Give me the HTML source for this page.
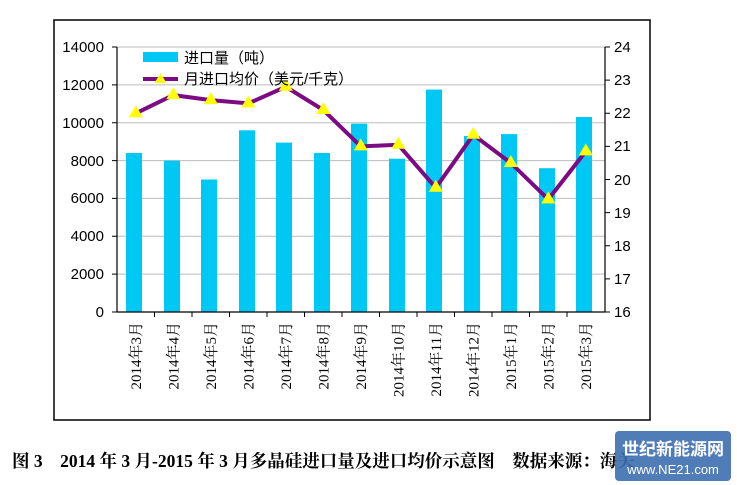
<!DOCTYPE html>
<html><head><meta charset="utf-8"><style>
body{margin:0;background:#fff;width:737px;height:485px;overflow:hidden;position:relative}
svg{position:absolute;left:0;top:0}
</style></head><body>
<svg width="737" height="485" font-family="Liberation Sans, Noto Sans CJK SC, sans-serif">
<rect x="54" y="20" width="596" height="400" fill="#fff" stroke="#000" stroke-width="1.5"/>
<g stroke="#bbb" stroke-width="1">
<line x1="117" x2="605" y1="47" y2="47"/>
<line x1="117" x2="605" y1="274.1" y2="274.1"/><line x1="117" x2="605" y1="236.3" y2="236.3"/>
<line x1="117" x2="605" y1="198.4" y2="198.4"/><line x1="117" x2="605" y1="160.6" y2="160.6"/>
<line x1="117" x2="605" y1="122.7" y2="122.7"/><line x1="117" x2="605" y1="84.9" y2="84.9"/>
</g>
<g fill="#00c8f5">
<rect x="126" y="153" width="16" height="159"/><rect x="164" y="160.6" width="16" height="151.4"/>
<rect x="201" y="179.5" width="16" height="132.5"/><rect x="239" y="130.3" width="16" height="181.7"/>
<rect x="276" y="142.6" width="16" height="169.4"/><rect x="314" y="153" width="16" height="159"/>
<rect x="351" y="123.7" width="16" height="188.3"/><rect x="389" y="158.7" width="16" height="153.3"/>
<rect x="426" y="89.6" width="16" height="222.4"/><rect x="464" y="136" width="16" height="176"/>
<rect x="501" y="134.1" width="16" height="177.9"/><rect x="539" y="168.2" width="16" height="143.8"/>
<rect x="576" y="117" width="16" height="195"/>
</g>
<g stroke="#000" stroke-width="1.2" fill="none">
<line x1="117" y1="47" x2="117" y2="312"/><line x1="605" y1="47" x2="605" y2="312"/>
<line x1="117" y1="312" x2="605" y2="312"/>
</g>
<g stroke="#000" stroke-width="1">
<path d="M112 47h5M112 84.9h5M112 122.7h5M112 160.6h5M112 198.4h5M112 236.3h5M112 274.1h5M112 312h5"/>
<path d="M605 47h5M605 80.1h5M605 113.3h5M605 146.4h5M605 179.5h5M605 212.6h5M605 245.8h5M605 278.9h5M605 312h5"/>
<path d="M154.5 312v5M192 312v5M229.5 312v5M267 312v5M304.5 312v5M342 312v5M379.5 312v5M417 312v5M454.5 312v5M492 312v5M529.5 312v5M567 312v5"/>
</g>
<g font-size="15" text-anchor="end">
<text x="104" y="52">14000</text><text x="104" y="90">12000</text><text x="104" y="128">10000</text>
<text x="104" y="166">8000</text><text x="104" y="203">6000</text><text x="104" y="241">4000</text>
<text x="104" y="279">2000</text><text x="104" y="317">0</text>
</g>
<g font-size="15">
<text x="614" y="52">24</text><text x="614" y="85">23</text><text x="614" y="118">22</text><text x="614" y="151">21</text>
<text x="614" y="185">20</text><text x="614" y="218">19</text><text x="614" y="251">18</text><text x="614" y="284">17</text><text x="614" y="317">16</text>
</g>
<polyline fill="none" stroke="#7b0a84" stroke-width="4" points="135.8,113.3 173.3,95.1 210.8,100.1 248.3,103.4 285.8,86.8 323.3,110 360.8,146.4 398.3,144.8 435.8,187.8 473.3,134.8 510.8,163 548.3,199.4 585.8,151.4"/>
<g fill="#ffff00">
<path d="M135.8 105.3l7 12h-14z"/><path d="M173.3 87.1l7 12h-14z"/><path d="M210.8 92.1l7 12h-14z"/>
<path d="M248.3 95.4l7 12h-14z"/><path d="M285.8 78.8l7 12h-14z"/><path d="M323.3 102l7 12h-14z"/>
<path d="M360.8 138.4l7 12h-14z"/><path d="M398.3 136.8l7 12h-14z"/><path d="M435.8 179.8l7 12h-14z"/>
<path d="M473.3 126.8l7 12h-14z"/><path d="M510.8 155l7 12h-14z"/><path d="M548.3 191.4l7 12h-14z"/>
<path d="M585.8 143.4l7 12h-14z"/>
</g>
<rect x="143" y="52" width="35" height="10" fill="#00c8f5"/>
<text x="184" y="63" font-size="15">进口量（吨）</text>
<line x1="143" y1="79" x2="178" y2="79" stroke="#7b0a84" stroke-width="4"/>
<path d="M160.5 73l6 10h-12z" fill="#ffff00"/>
<text x="184" y="84" font-size="15">月进口均价（美元/千克）</text>
<g font-size="15" font-family="Liberation Serif, Noto Serif CJK SC, serif">
<text transform="translate(141,322) rotate(-90)" text-anchor="end">2014年3月</text>
<text transform="translate(178.5,322) rotate(-90)" text-anchor="end">2014年4月</text>
<text transform="translate(216,322) rotate(-90)" text-anchor="end">2014年5月</text>
<text transform="translate(253.5,322) rotate(-90)" text-anchor="end">2014年6月</text>
<text transform="translate(291,322) rotate(-90)" text-anchor="end">2014年7月</text>
<text transform="translate(328.5,322) rotate(-90)" text-anchor="end">2014年8月</text>
<text transform="translate(366,322) rotate(-90)" text-anchor="end">2014年9月</text>
<text transform="translate(403.5,322) rotate(-90)" text-anchor="end">2014年10月</text>
<text transform="translate(441,322) rotate(-90)" text-anchor="end">2014年11月</text>
<text transform="translate(478.5,322) rotate(-90)" text-anchor="end">2014年12月</text>
<text transform="translate(516,322) rotate(-90)" text-anchor="end">2015年1月</text>
<text transform="translate(553.5,322) rotate(-90)" text-anchor="end">2015年2月</text>
<text transform="translate(591,322) rotate(-90)" text-anchor="end">2015年3月</text>
</g>
<text x="12" y="467" font-size="17.5" font-weight="bold" font-family="Liberation Serif, Noto Serif CJK SC, serif">图 3　2014 年 3 月-2015 年 3 月多晶硅进口量及进口均价示意图　数据来源：海关</text>
<rect x="615" y="431" width="116" height="50" rx="4" fill="#3d6eb0" opacity="0.9"/>
<text x="673" y="455" font-size="17" font-weight="bold" fill="#fff" text-anchor="middle">世纪新能源网</text>
<text x="673" y="474" font-size="13" fill="#fff" text-anchor="middle">www.NE21.com</text>
</svg>
</body></html>
